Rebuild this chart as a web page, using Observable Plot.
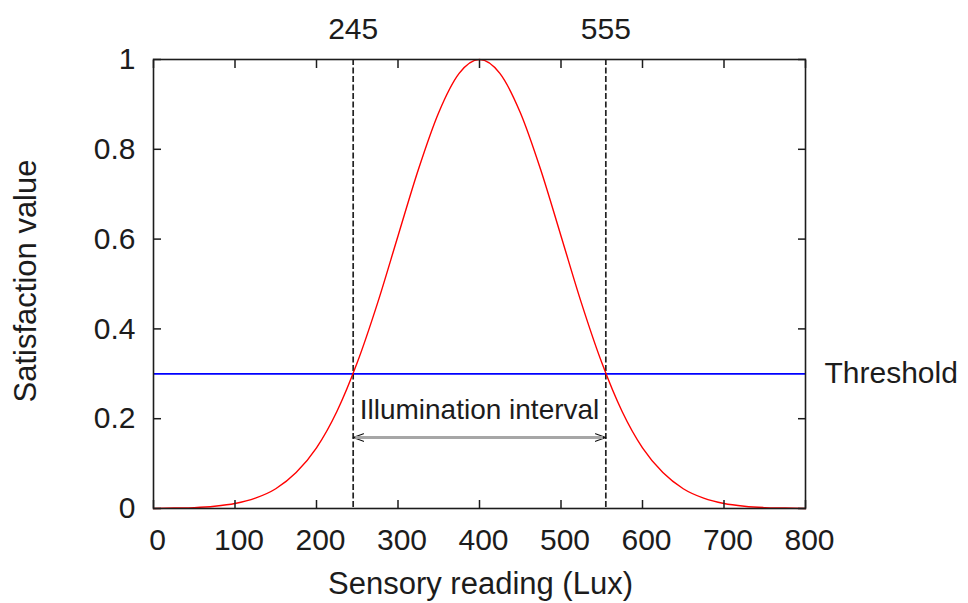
<!DOCTYPE html>
<html>
<head>
<meta charset="utf-8">
<script src="https://cdn.jsdelivr.net/npm/d3@7"></script>
<script src="https://cdn.jsdelivr.net/npm/@observablehq/plot@0.6"></script>
<style>
  html, body { margin: 0; padding: 0; background: #fff; }
  #chart svg { display: block; }
</style>
</head>
<body>
<div id="chart"></div>
<script>
// ---- data ----
const readings = [0,25,50,75,100,125,150,175,200,225,250,275,300,325,350,375,400,425,450,475,500,525,550,575,600,625,650,675,700,725,750,775,800];
const satisfaction = [0.000,0.001,0.002,0.005,0.011,0.023,0.044,0.080,0.135,0.216,0.325,0.458,0.607,0.755,0.882,0.969,1.000,0.969,0.882,0.755,0.607,0.458,0.325,0.216,0.135,0.080,0.044,0.023,0.011,0.005,0.002,0.001,0.000];
const threshold = 0.3;
const thresholdLabel = "Threshold";
const intervalBounds = [245, 555];
const intervalLabel = "Illumination interval";
const arrowLevel = 0.158;
const xTicks = [0,100,200,300,400,500,600,700,800];
const yTicks = [0,0.2,0.4,0.6,0.8,1];
const yTickLabels = ["0","0.2","0.4","0.6","0.8","1"];
const xLabel = "Sensory reading (Lux)";
const yLabel = "Satisfaction value";
const xDomain = [0, 800];
const yDomain = [0, 1];

const curve = readings.map((x, i) => ({x, y: satisfaction[i]}));
const intervalMid = (intervalBounds[0] + intervalBounds[1]) / 2;

const ink = "#1c1c1c";
const FS = 30;

const chart = Plot.plot({
  width: 968,
  height: 603,
  marginLeft: 153,
  marginRight: 163,
  marginTop: 59,
  marginBottom: 95,
  style: {fontFamily: "'Liberation Sans', Arial, sans-serif", color: ink, background: "#fff"},
  x: {domain: xDomain},
  y: {domain: yDomain},
  marks: [
    // threshold
    Plot.ruleY([threshold], {stroke: "#0000ff", strokeWidth: 1.8}),
    // interval bounds
    Plot.ruleX(intervalBounds, {stroke: "#222", strokeWidth: 1.7, strokeDasharray: "6,2.5"}),
    // arrows
    Plot.arrow(intervalBounds, {x1: intervalMid, x2: d => d, y1: arrowLevel, y2: arrowLevel, bend: 0, stroke: "#111", strokeWidth: 1.1, headLength: 15, headAngle: 40}),
    Plot.ruleY([arrowLevel], {x1: intervalBounds[0], x2: intervalBounds[1], stroke: "#a6a6a6", strokeWidth: 3, insetLeft: 2.5, insetRight: 2.5}),
    // curve
    Plot.line(curve, {x: "x", y: "y", stroke: "#ff0000", strokeWidth: 1.4, curve: "monotone-x"}),
    // frame
    Plot.frame({stroke: ink, strokeWidth: 1.6}),
    // inward ticks on all sides
    Plot.axisX(xTicks, {anchor: "bottom", tickSize: -8, fill: "none", stroke: ink, strokeWidth: 1.5, label: null}),
    Plot.axisX(xTicks, {anchor: "top", tickSize: -8, fill: "none", stroke: ink, strokeWidth: 1.5, label: null}),
    Plot.axisY(yTicks, {anchor: "left", tickSize: -8, fill: "none", stroke: ink, strokeWidth: 1.5, label: null}),
    Plot.axisY(yTicks, {anchor: "right", tickSize: -8, fill: "none", stroke: ink, strokeWidth: 1.5, label: null}),
    // tick labels
    Plot.axisX(xTicks, {anchor: "bottom", tickSize: 0, tickPadding: 20, dx: 4, fontSize: FS, fill: ink, label: null}),
    Plot.axisY(yTicks, {anchor: "left", tickSize: 0, tickPadding: 18, fontSize: FS, fill: ink, label: null, tickFormat: (d, i) => yTickLabels[i]}),
    Plot.axisX(intervalBounds, {anchor: "top", tickSize: 0, tickPadding: 21, fontSize: FS, fill: ink, label: null, tickFormat: d => String(d)}),
    // labels
    Plot.text([thresholdLabel], {y: threshold, frameAnchor: "right", text: d => d, textAnchor: "start", lineAnchor: "middle", dx: 19, fontSize: FS, fill: ink}),
    Plot.text([intervalLabel], {x: intervalMid, y: arrowLevel, text: d => d, dy: -28, fontSize: 28, fill: ink}),
    Plot.text([xLabel], {frameAnchor: "bottom", text: d => d, textAnchor: "middle", lineAnchor: "middle", dx: 1, dy: 76, fontSize: 31, fill: ink}),
    Plot.text([yLabel], {frameAnchor: "left", text: d => d, rotate: -90, textAnchor: "middle", lineAnchor: "middle", dx: -127, dy: -3, fontSize: 31, fill: ink})
  ]
});
document.getElementById("chart").appendChild(chart);
</script>
</body>
</html>
